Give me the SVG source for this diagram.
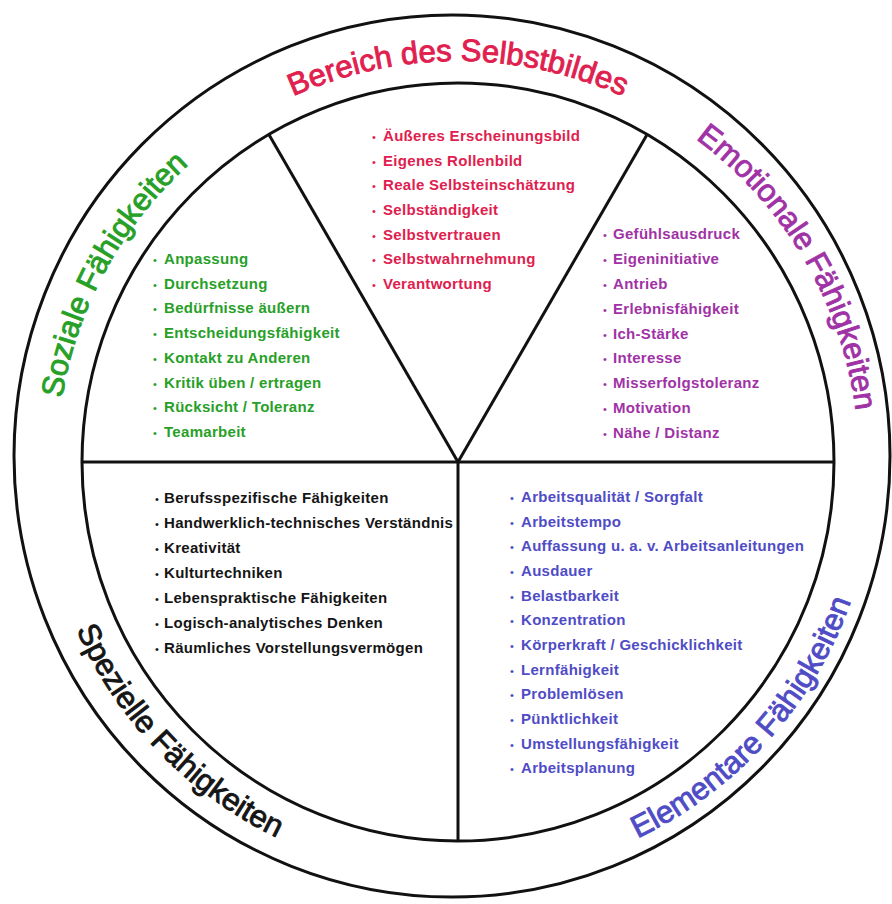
<svg xmlns="http://www.w3.org/2000/svg" width="892" height="904" viewBox="0 0 892 904">
<defs>
<style>
.frame{fill:none;stroke:#111;stroke-width:3}
.ttl{font-family:"Liberation Sans",Arial,sans-serif;font-size:31px;stroke-width:0.9px}
.li{font-family:"Liberation Sans",Arial,sans-serif;font-size:15px;font-weight:bold;letter-spacing:0.3px}
.bu{font-family:"Liberation Sans",Arial,sans-serif;font-size:11px}
.red{fill:#e0204e}.grn{fill:#27a027}.pur{fill:#a032a6}.blk{fill:#151515}.blu{fill:#4f4cc6}
.ttl.red{stroke:#e0204e}.ttl.grn{stroke:#27a027}.ttl.pur{stroke:#a032a6}.ttl.blk{stroke:#151515}.ttl.blu{stroke:#4f4cc6}
</style>
<path id="pTop" d="M228,133.5 A401,401 0 0 1 688,133.5"/>
<path id="pLeft" d="M57,462 A401,401 0 0 1 239.6,125.7"/>
<path id="pRight" d="M658.5,114.7 A401,401 0 0 1 858.9,455"/>
<path id="pBL" d="M71.4,618.2 A417,417 0 0 0 288.4,842.9"/>
<path id="pBR" d="M627.6,842.9 A417,417 0 0 0 854.6,590.9"/>
</defs>
<rect width="892" height="904" fill="#fff"/>
<g id="frame">
<ellipse class="frame" cx="452" cy="456" rx="438" ry="441"/>
<ellipse class="frame" cx="458" cy="462" rx="376" ry="379"/>
</g>
<g id="connectors">
<line class="frame" x1="82" y1="462" x2="834" y2="462"/>
<line class="frame" x1="458" y1="462" x2="458" y2="841"/>
<line class="frame" x1="458" y1="462" x2="268.9" y2="134.4"/>
<line class="frame" x1="458" y1="462" x2="647.1" y2="134.4"/>
</g>
<g id="selbstbild">
<text class="ttl red"><textPath href="#pTop" startOffset="50%" text-anchor="middle">Bereich des Selbstbildes</textPath></text>
<g class="bu red">
<text x="372" y="141">•</text><text x="372" y="165.7">•</text><text x="372" y="190.3">•</text><text x="372" y="215">•</text><text x="372" y="239.7">•</text><text x="372" y="264.3">•</text><text x="372" y="289">•</text>
</g>
<g class="li red">
<text x="383" y="141">Äußeres Erscheinungsbild</text>
<text x="383" y="165.7">Eigenes Rollenbild</text>
<text x="383" y="190.3">Reale Selbsteinschätzung</text>
<text x="383" y="215">Selbständigkeit</text>
<text x="383" y="239.7">Selbstvertrauen</text>
<text x="383" y="264.3">Selbstwahrnehmung</text>
<text x="383" y="289">Verantwortung</text>
</g>
</g>
<g id="sozial">
<text class="ttl grn"><textPath href="#pLeft" startOffset="50%" text-anchor="middle">Soziale Fähigkeiten</textPath></text>
<g class="bu grn">
<text x="153" y="264">•</text><text x="153" y="288.7">•</text><text x="153" y="313.4">•</text><text x="153" y="338.1">•</text><text x="153" y="362.8">•</text><text x="153" y="387.5">•</text><text x="153" y="412.2">•</text><text x="153" y="437">•</text>
</g>
<g class="li grn">
<text x="164" y="264">Anpassung</text>
<text x="164" y="288.7">Durchsetzung</text>
<text x="164" y="313.4">Bedürfnisse äußern</text>
<text x="164" y="338.1">Entscheidungsfähigkeit</text>
<text x="164" y="362.8">Kontakt zu Anderen</text>
<text x="164" y="387.5">Kritik üben / ertragen</text>
<text x="164" y="412.2">Rücksicht / Toleranz</text>
<text x="164" y="437">Teamarbeit</text>
</g>
</g>
<g id="emotional">
<text class="ttl pur"><textPath href="#pRight" startOffset="50%" text-anchor="middle">Emotionale Fähigkeiten</textPath></text>
<g class="bu pur">
<text x="603" y="239">•</text><text x="603" y="263.9">•</text><text x="603" y="288.8">•</text><text x="603" y="313.6">•</text><text x="603" y="338.5">•</text><text x="603" y="363.4">•</text><text x="603" y="388.3">•</text><text x="603" y="413.1">•</text><text x="603" y="438">•</text>
</g>
<g class="li pur">
<text x="613" y="239">Gefühlsausdruck</text>
<text x="613" y="263.9">Eigeninitiative</text>
<text x="613" y="288.8">Antrieb</text>
<text x="613" y="313.6">Erlebnisfähigkeit</text>
<text x="613" y="338.5">Ich-Stärke</text>
<text x="613" y="363.4">Interesse</text>
<text x="613" y="388.3">Misserfolgstoleranz</text>
<text x="613" y="413.1">Motivation</text>
<text x="613" y="438">Nähe / Distanz</text>
</g>
</g>
<g id="speziell">
<text class="ttl blk"><textPath href="#pBL" startOffset="50%" text-anchor="middle">Spezielle Fähigkeiten</textPath></text>
<g class="bu blk">
<text x="155" y="502.5">•</text><text x="155" y="527.5">•</text><text x="155" y="552.5">•</text><text x="155" y="577.5">•</text><text x="155" y="602.5">•</text><text x="155" y="627.5">•</text><text x="155" y="652.5">•</text>
</g>
<g class="li blk">
<text x="164" y="502.5">Berufsspezifische Fähigkeiten</text>
<text x="164" y="527.5">Handwerklich-technisches Verständnis</text>
<text x="164" y="552.5">Kreativität</text>
<text x="164" y="577.5">Kulturtechniken</text>
<text x="164" y="602.5">Lebenspraktische Fähigkeiten</text>
<text x="164" y="627.5">Logisch-analytisches Denken</text>
<text x="164" y="652.5">Räumliches Vorstellungsvermögen</text>
</g>
</g>
<g id="elementar">
<text class="ttl blu"><textPath href="#pBR" startOffset="50%" text-anchor="middle">Elementare Fähigkeiten</textPath></text>
<g class="bu blu">
<text x="510" y="502">•</text><text x="510" y="526.6">•</text><text x="510" y="551.3">•</text><text x="510" y="575.9">•</text><text x="510" y="600.6">•</text><text x="510" y="625.2">•</text><text x="510" y="649.9">•</text><text x="510" y="674.5">•</text><text x="510" y="699.2">•</text><text x="510" y="723.8">•</text><text x="510" y="748.5">•</text><text x="510" y="773.1">•</text>
</g>
<g class="li blu">
<text x="521" y="502">Arbeitsqualität / Sorgfalt</text>
<text x="521" y="526.6">Arbeitstempo</text>
<text x="521" y="551.3">Auffassung u. a. v. Arbeitsanleitungen</text>
<text x="521" y="575.9">Ausdauer</text>
<text x="521" y="600.6">Belastbarkeit</text>
<text x="521" y="625.2">Konzentration</text>
<text x="521" y="649.9">Körperkraft / Geschicklichkeit</text>
<text x="521" y="674.5">Lernfähigkeit</text>
<text x="521" y="699.2">Problemlösen</text>
<text x="521" y="723.8">Pünktlichkeit</text>
<text x="521" y="748.5">Umstellungsfähigkeit</text>
<text x="521" y="773.1">Arbeitsplanung</text>
</g>
</g>
</svg>
